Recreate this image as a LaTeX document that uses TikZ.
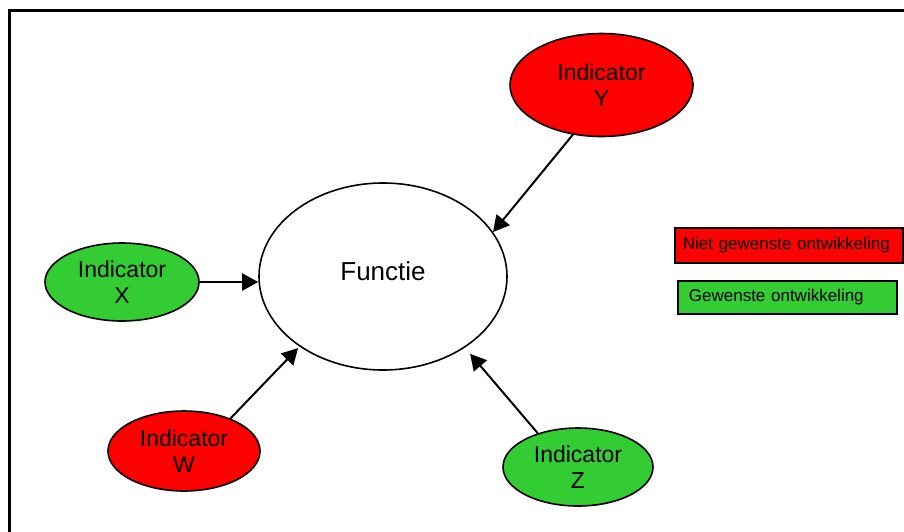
\documentclass[tikz,border=0pt]{standalone}
\usepackage{fontspec}
\setmainfont{Liberation Sans}
\usetikzlibrary{shapes.geometric,arrows.meta}
\definecolor{indred}{RGB}{255,0,0}
\definecolor{indgreen}{RGB}{51,204,51}
\tikzset{
  oval/.style={ellipse, draw=black, line width=1.6pt, inner sep=0pt},
  indicator/.style={oval, align=center, font=\fontsize{23}{26}\selectfont},
  legendbox/.style={rectangle, draw=black, line width=1.8pt, anchor=west,
    font=\fontsize{17}{20}\selectfont},
  arr/.style={line width=2pt, -{Triangle[length=16pt,width=17pt]}},
}
\begin{document}
\begin{tikzpicture}[x=1pt,y=-1pt]
  \clip (0,0) rectangle (904,531);
  \fill[white] (0,0) rectangle (904,531);
  % outer frame, running past the right and bottom edges
  \draw[line width=2.4pt] (9.5,10.5) rectangle (930,560);

  % central function
  \node[oval, fill=white, minimum width=248, minimum height=187,
        font=\fontsize{26}{30}\selectfont] (f) at (383,276.5) {\raisebox{10pt}{Functie}};

  % indicators
  \node[indicator, fill=indred,   minimum width=183, minimum height=103] (y) at (601.5,85) {Indicator\\Y};
  \node[indicator, fill=indgreen, minimum width=154, minimum height=78]  (x) at (122,282)  {Indicator\\X};
  \node[indicator, fill=indred,   minimum width=152, minimum height=80]  (w) at (184,451)  {Indicator\\W};
  \node[indicator, fill=indgreen, minimum width=150, minimum height=78]  (z) at (578,467)  {Indicator\\Z};

  % influences on the function
  \draw[arr] (y.240) -- (f.22);
  \draw[arr] (x.east) -- (x.east -| f.west);
  \draw[arr, shorten >=2pt] (w.35) -- (f.220);
  \draw[arr, shorten >=8pt] (z.140) -- (f.319);

  % legend
  \node[legendbox, fill=indred, minimum height=35, inner xsep=8pt, text width=212pt]
    (leg1) at (674,245.5) {Niet gewenste ontwikkeling};
  \node[legendbox, fill=indgreen, minimum height=33, inner xsep=11pt, text width=197pt]
    (leg2) at (677,297.5) {Gewenste ontwikkeling};
\end{tikzpicture}
\end{document}
